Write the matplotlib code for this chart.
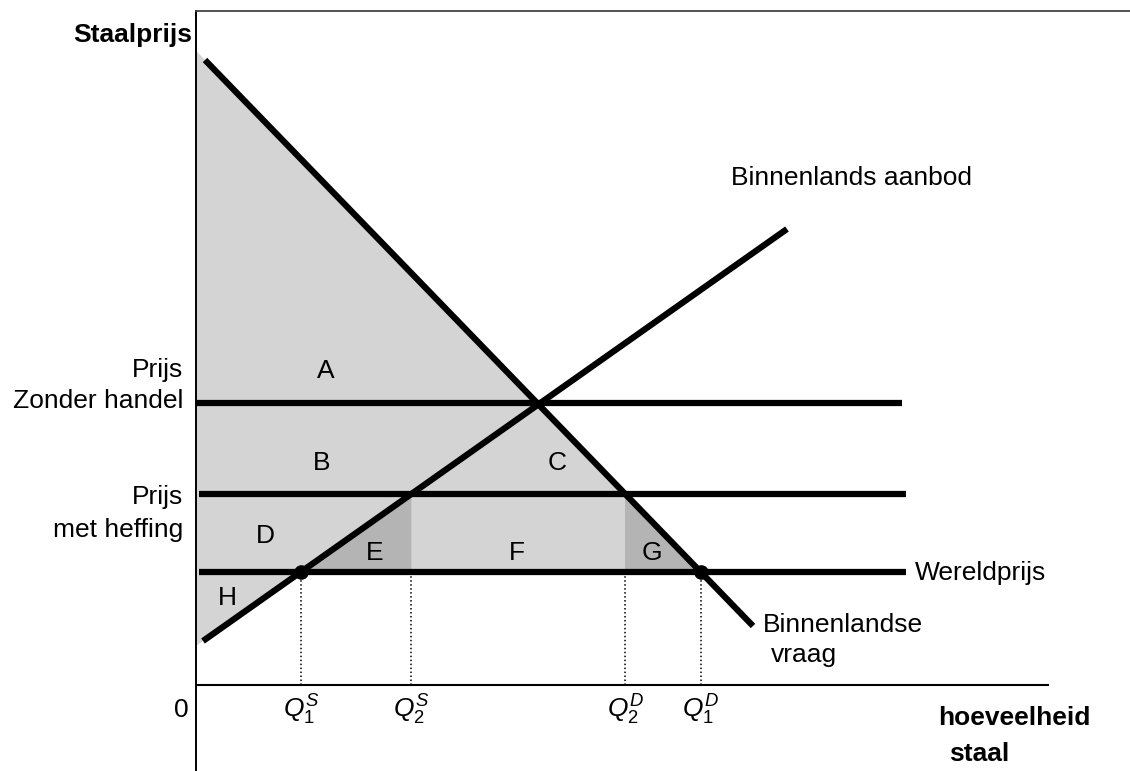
import numpy as np
import matplotlib
matplotlib.use('Agg')
from matplotlib import pyplot as plt

plt.rcParams['font.family'] = ['Liberation Sans', 'DejaVu Sans']
plt.rcParams['mathtext.fontset'] = 'custom'
plt.rcParams['mathtext.rm'] = 'Liberation Sans'
plt.rcParams['mathtext.it'] = 'Liberation Sans:italic'
plt.rcParams['mathtext.bf'] = 'Liberation Sans:bold'

# vraag- en aanbodlijn (eindpunten, hoeveelheid / prijs)
vraag_q = [0.9, 55.7]
vraag_p = [62.5, 5.9]
aanbod_q = [0.7, 59.1]
aanbod_p = [4.4, 45.6]

# prijsniveaus
p_zonder_handel = 28.2
p_heffing = 19.1
p_wereld = 11.3
prijs_lijn_eind = [70.6, 71.0, 71.0]
prijs_lijn_begin = [0.0, 0.3, 0.3]
x_as_eind = 85.2

# letters van de gebieden
gebied_labels = ['A', 'B', 'C', 'D', 'E', 'F', 'G', 'H']
gebied_q = [13.0, 12.6, 36.1, 6.9, 17.9, 32.1, 45.6, 3.1]
gebied_p = [31.4, 22.2, 22.2, 14.9, 13.2, 13.2, 13.2, 8.7]


def lijn(qs, ps):
    helling = (ps[1] - ps[0]) / (qs[1] - qs[0])
    return helling, ps[0] - helling * qs[0]


b_v, a_v = lijn(vraag_q, vraag_p)
b_s, a_s = lijn(aanbod_q, aanbod_p)
vraag = lambda q: a_v + b_v * q
aanbod = lambda q: a_s + b_s * q
q_vraag = lambda p: (p - a_v) / b_v
q_aanbod = lambda p: (p - a_s) / b_s

Q1S = q_aanbod(p_wereld)
Q2S = q_aanbod(p_heffing)
Q2D = q_vraag(p_heffing)
Q1D = q_vraag(p_wereld)

fig = plt.figure(figsize=(11.3, 7.71), dpi=100)
ax = fig.add_axes([196 / 1130, 0, 1 - 196 / 1130, 760 / 771])
ax.set_xlim(0, 93.4)
ax.set_ylim(-8.6, 67.4)
ax.set_xticks([])
ax.set_yticks([])
ax.spines['right'].set_visible(False)
ax.spines['bottom'].set_visible(False)
ax.spines['left'].set_linewidth(1.4)
ax.spines['top'].set_linewidth(1.3)
ax.spines['top'].set_color('#444444')

licht = '#d4d4d4'
donker = '#b4b4b4'

# lichtgrijs gebied
ax.fill([0, Q1D, Q1S, 0], [vraag(0), p_wereld, p_wereld, aanbod(0)],
        color=licht, lw=0, zorder=1)
# E en G
ax.fill([Q1S, Q2S, Q2S], [p_wereld, p_heffing, p_wereld], color=donker, lw=0, zorder=2)
ax.fill([Q2D, Q2D, Q1D], [p_heffing, p_wereld, p_wereld], color=donker, lw=0, zorder=2)

# horizontale as
ax.plot([0, x_as_eind], [0, 0], color='black', lw=1.5, zorder=3)

# stippellijnen
for q in [Q1S, Q2S, Q2D, Q1D]:
    ax.plot([q, q], [0, p_wereld], color='black', lw=1.1,
            linestyle=(0, (1, 1.6)), zorder=3)

# prijslijnen
for p, b, e in zip([p_zonder_handel, p_heffing, p_wereld], prijs_lijn_begin, prijs_lijn_eind):
    ax.plot([b, e], [p, p], color='black', lw=4.5, solid_capstyle='butt', zorder=4)

ax.plot(vraag_q, vraag_p, color='black', lw=4.5, solid_capstyle='butt', zorder=5)
ax.plot(aanbod_q, aanbod_p, color='black', lw=4.5, solid_capstyle='butt', zorder=5)
ax.plot([Q1S, Q1D], [p_wereld, p_wereld], 'o', color='black', ms=9.5, zorder=6)

fs = 19
for t, q, p in zip(gebied_labels, gebied_q, gebied_p):
    ax.text(q, p, t, fontsize=fs, ha='center', va='center', zorder=7)

ax.text(-0.4, 64.3, 'Staalprijs', fontsize=fs, fontweight='bold', ha='right', va='baseline')
ax.text(-1.3, 30.8, 'Prijs', fontsize=fs, ha='right', va='baseline')
ax.text(-1.3, 27.7, 'Zonder handel', fontsize=fs, ha='right', va='baseline')
ax.text(-1.3, 18.1, 'Prijs', fontsize=fs, ha='right', va='baseline')
ax.text(-1.3, 14.8, 'met heffing', fontsize=fs, ha='right', va='baseline')
ax.text(-1.5, -3.2, '0', fontsize=fs, ha='center', va='baseline')

ax.text(53.5, 50.0, 'Binnenlands aanbod', fontsize=fs, va='baseline')
ax.text(71.9, 10.5, 'Wereldprijs', fontsize=fs, va='baseline')
ax.text(56.7, 5.3, 'Binnenlandse', fontsize=fs, va='baseline')
ax.text(57.5, 2.3, 'vraag', fontsize=fs, va='baseline')
ax.text(74.2, -4.0, 'hoeveelheid', fontsize=fs, fontweight='bold', va='baseline')
ax.text(75.3, -7.6, 'staal', fontsize=fs, fontweight='bold', va='baseline')

for q, lab in zip([Q1S, Q2S, Q2D, Q1D],
                  [r'$Q_1^S$', r'$Q_2^S$', r'$Q_2^D$', r'$Q_1^D$']):
    ax.text(q, -3.3, lab, fontsize=fs, ha='center', va='baseline')

fig.savefig('out.png', dpi=100)
